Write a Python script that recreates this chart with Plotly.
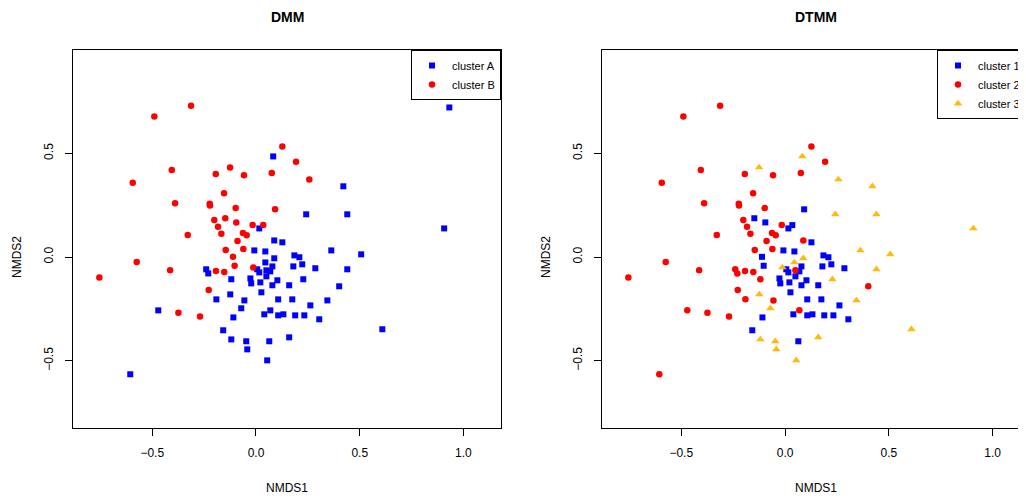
import plotly.graph_objects as go

# NMDS coordinates (shared by both panels)
nmds1 = [-0.313, -0.490, 0.127, 0.083, -0.406, -0.125, -0.194, -0.058, 0.076, -0.594,
         -0.154, -0.390, -0.223, -0.222, -0.098, 0.092, -0.201, -0.148, -0.095, -0.183,
         0.016, -0.016, 0.035, -0.167, -0.063, -0.045, -0.329, -0.089, 0.088, 0.932,
         0.193, 0.257, 0.421, 0.242, 0.440, 0.907, 0.127, -0.146, -0.061, -0.008,
         0.045, -0.111, 0.088, -0.575, 0.045, -0.103, -0.013, 0.079, 0.006, 0.016,
         0.050, 0.069, -0.414, -0.240, -0.230, -0.193, -0.153, -0.755, -0.119, -0.027,
         0.050, 0.103, -0.023, 0.021, 0.079, 0.160, -0.228, 0.026, -0.191, -0.124,
         -0.056, 0.107, -0.471, -0.374, -0.270, -0.071, -0.109, 0.040, 0.069, 0.107,
         0.132, -0.158, -0.119, -0.047, 0.064, 0.160, -0.042, 0.054, -0.606, 0.363,
         0.507, 0.185, 0.209, 0.180, 0.223, 0.286, 0.440, 0.228, 0.401, 0.175,
         0.344, 0.262, 0.189, 0.233, 0.305, 0.609]
nmds2 = [0.729, 0.678, 0.533, 0.485, 0.419, 0.432, 0.400, 0.394, 0.405, 0.358,
         0.307, 0.259, 0.257, 0.249, 0.236, 0.230, 0.178, 0.187, 0.167, 0.146,
         0.138, 0.154, 0.154, 0.112, 0.116, 0.105, 0.106, 0.077, 0.080, 0.721,
         0.459, 0.374, 0.341, 0.206, 0.206, 0.138, 0.071, 0.034, 0.039, 0.032,
         0.027, 0.001, -0.006, -0.024, -0.026, -0.042, -0.050, -0.045, -0.059, -0.074,
         -0.064, -0.069, -0.064, -0.059, -0.079, -0.067, -0.072, -0.098, -0.107, -0.103,
         -0.093, -0.112, -0.127, -0.122, -0.136, -0.136, -0.159, -0.170, -0.204, -0.180,
         -0.209, -0.204, -0.257, -0.268, -0.286, -0.247, -0.291, -0.276, -0.257, -0.281,
         -0.276, -0.353, -0.397, -0.406, -0.406, -0.387, -0.445, -0.498, -0.565, 0.032,
         0.013, 0.008, -0.001, -0.045, -0.035, -0.054, -0.059, -0.107, -0.141, -0.204,
         -0.209, -0.233, -0.281, -0.281, -0.300, -0.348]
dmm_cluster = list("BBBABBBBBB" "BBBBBBBBBB" "ABBBBBBBAA" "BBAAAAABBA"
                   "ABABABBAAA" "AABAABBBAA" "AAAAAABAAA" "AAABBAAAAA"
                   "AAAAAAAAAA" "AAAAAAAAAA" "AAAAAA")
dtmm_cluster = list("2223232222" "2222212112" "1212222223" "2333331221"
                    "1132313111" "2122222221" "1111112123" "2122231121"
                    "1133133323" "3111113321" "311113")
assert len(nmds1) == len(nmds2) == len(dmm_cluster) == len(dtmm_cluster)

dmm_names = ["A", "B"]
dtmm_names = ["1", "2", "3"]
colors = {"A": "#0000FF", "B": "#FF0000", "1": "#0000FF", "2": "#FF0000", "3": "#FFB90F"}
symbols = {"A": "square", "B": "circle", "1": "square", "2": "circle", "3": "triangle-up"}
sizes = {"A": 6, "B": 6.5, "1": 6, "2": 6.5, "3": 7.5}

fig = go.Figure()
for c in dmm_names:
    idx = [i for i, v in enumerate(dmm_cluster) if v == c]
    fig.add_trace(go.Scatter(
        x=[nmds1[i] for i in idx], y=[nmds2[i] for i in idx], mode="markers",
        name="cluster " + c, xaxis="x", yaxis="y", legend="legend",
        marker=dict(color=colors[c], symbol=symbols[c], size=sizes[c], line=dict(width=0))))
for c in dtmm_names:
    idx = [i for i, v in enumerate(dtmm_cluster) if v == c]
    fig.add_trace(go.Scatter(
        x=[nmds1[i] for i in idx], y=[nmds2[i] for i in idx], mode="markers",
        name="cluster " + c, xaxis="x2", yaxis="y2", legend="legend2",
        marker=dict(color=colors[c], symbol=symbols[c], size=sizes[c], line=dict(width=0))))

FONT = "Liberation Sans, Arial, Helvetica, sans-serif"
OFF = 8  # page body margin
W, H = 1026 - OFF, 498 - OFF
L = 73 - OFF
T = 50 - OFF
B = 428 - OFF
PW = W - L
PH = B - T
px = lambda p: (p - OFF - L) / PW
py = lambda p: (B - (p - OFF)) / PH
left_dom = [0, px(501)]
right_dom = [px(602), 1]

axis_common = dict(showgrid=False, zeroline=False, showline=True, linecolor="black",
                   linewidth=1, ticks="outside", ticklen=7, tickwidth=1, tickcolor="black",
                   ticklabelstandoff=7,
                   tickfont=dict(size=12, color="black", family=FONT))
xt = dict(tickvals=[-0.5, 0.0, 0.5, 1.0], ticktext=["\u22120.5", "0.0", "0.5", "1.0"])
yt = dict(tickvals=[-0.5, 0.0, 0.5], ticktext=["\u22120.5", "0.0", "0.5"], tickangle=-90)

legend_common = dict(bgcolor="white", bordercolor="black", borderwidth=1,
                     font=dict(size=11, color="black", family=FONT),
                     itemwidth=30, tracegroupgap=0, yanchor="top", y=1)

fig.update_layout(
    width=W, height=H,
    margin=dict(l=L, r=0, t=T, b=H - B, autoexpand=False),
    paper_bgcolor="white", plot_bgcolor="white",
    font=dict(family=FONT, color="black"),
    xaxis=dict(domain=left_dom, range=[-0.882, 1.181], mirror=True, anchor="y", **xt, **axis_common),
    yaxis=dict(domain=[0, 1], range=[-0.824, 0.998], mirror=True, anchor="x", **yt, **axis_common),
    xaxis2=dict(domain=right_dom, range=[-0.882, 1.161], mirror=True, anchor="y2", **xt, **axis_common),
    yaxis2=dict(domain=[0, 1], range=[-0.824, 0.998], mirror=False, anchor="x2", **yt, **axis_common),
    legend=dict(x=left_dom[1], xanchor="right", **legend_common),
    legend2=dict(x=1, xanchor="right", **legend_common),
    showlegend=True,
)

def ann(text, x, y, size=12, bold=False, angle=0):
    fig.add_annotation(text=("<b>%s</b>" % text) if bold else text, x=x, y=y,
                       xref="paper", yref="paper", showarrow=False, textangle=angle,
                       xanchor="center", yanchor="middle",
                       font=dict(size=size, family=FONT, color="black"))

ann("DMM", px(287), py(17), size=14, bold=True)
ann("DTMM", px(816), py(17), size=14, bold=True)
ann("NMDS1", px(287), py(488))
ann("NMDS1", px(816), py(488))
ann("NMDS2", px(17), py(257), angle=-90)
ann("NMDS2", px(546), py(257), angle=-90)

fig.write_html("out.html")
